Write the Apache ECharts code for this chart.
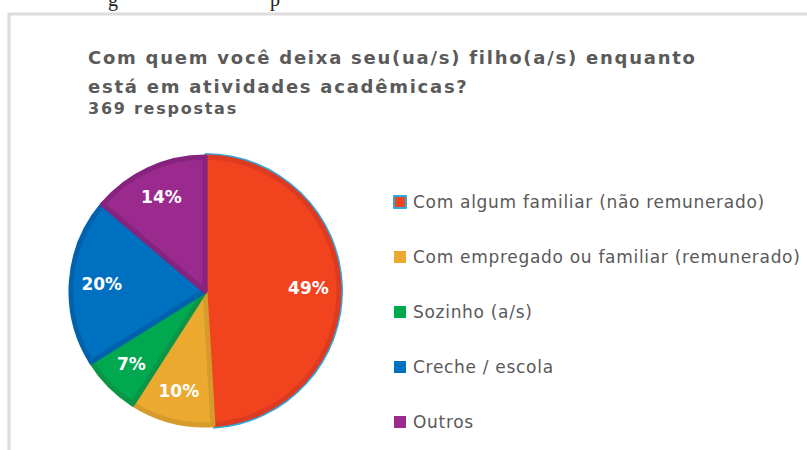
<!DOCTYPE html>
<html>
<head>
<meta charset="utf-8">
<script src="https://cdn.jsdelivr.net/npm/echarts@6/dist/echarts.min.js"></script>
<style>
  html, body { margin: 0; padding: 0; background: #fff; }
  #main { width: 807px; height: 450px; }
  /* spaced-out lettering of the title and of the legend */
  #main text[style*="Verdana"], #main text[font-family*="Verdana"] { letter-spacing: 1.75px; }
  #main text[style*="Arial"], #main text[font-family*="Arial"] { letter-spacing: 0.7px; }
</style>
</head>
<body>
<div id="main"></div>
<script>
// answers out of 369
const categories = [
  "Com algum familiar (não remunerado)",
  "Com empregado ou familiar (remunerado)",
  "Sozinho (a/s)",
  "Creche / escola",
  "Outros",
];
const counts = [181, 37, 26, 74, 51];
const fillColors = ["#f2431f", "#eba930", "#00a94f", "#0070c0", "#9b2a8f"];
const edgeColors = ["#dc3b21", "#d69b2b", "#0b9546", "#0062ad", "#86237e"];

const chartDom = document.getElementById("main");
const myChart = echarts.init(chartDom, null, { renderer: "svg" });

const center = [205, 291];
const R = 134;

const mainData = categories.map((name, i) => ({
  name: name,
  value: counts[i],
  itemStyle: { color: fillColors[i], borderColor: edgeColors[i], borderWidth: 5 },
}));

// light blue outline around the first (selected) slice
const outlineData = categories.map((name, i) => ({
  name: name,
  value: counts[i],
  itemStyle: { color: i === 0 ? "#2fa8dc" : "rgba(0,0,0,0)" },
}));

// invisible ring only used to push the labels outward
const labelData = categories.map((name, i) => ({ name: name, value: counts[i] }));

const titleFont = "DejaVu Sans, Verdana, sans-serif";
const legendFont = "DejaVu Sans, Arial, sans-serif";

const option = {
  animation: false,
  title: {
    text: "Com quem você deixa seu(ua/s) filho(a/s) enquanto\nestá em atividades acadêmicas?",
    subtext: "369 respostas",
    left: 83,
    top: 38,
    itemGap: -1,
    textStyle: {
      fontFamily: titleFont,
      fontWeight: "bold",
      fontSize: 18,
      lineHeight: 29,
      color: "#5a5a5a",
    },
    subtextStyle: {
      fontFamily: titleFont,
      fontWeight: "bold",
      fontSize: 16,
      color: "#5a5a5a",
    },
  },
  legend: {
    orient: "vertical",
    left: 388,
    top: 187,
    itemWidth: 12,
    itemHeight: 12,
    itemGap: 35,
    icon: "rect",
    data: categories.map((name, i) => ({
      name: name,
      itemStyle: i === 0
        ? { color: fillColors[i], borderColor: "#2fa8dc", borderWidth: 2 }
        : { color: fillColors[i], borderWidth: 0 },
    })),
    textStyle: {
      fontFamily: legendFont,
      fontSize: 17,
      lineHeight: 20,
      color: "#595959",
      padding: [0, 0, 0, 2],
    },
  },
  graphic: [
    {
      type: "rect",
      shape: { x: 9, y: 14, width: 900, height: 600 },
      style: { fill: "none", stroke: "#dcdcdc", lineWidth: 3 },
      silent: true,
    },
    // bottoms of letters from the document line above the screenshot
    {
      type: "text",
      left: 108,
      top: -11,
      style: { text: "g", font: "20px Liberation Serif", fill: "#222" },
      silent: true,
    },
    {
      type: "text",
      left: 270,
      top: -11,
      style: { text: "p", font: "20px Liberation Serif", fill: "#222" },
      silent: true,
    },
  ],
  series: [
    {
      type: "pie",
      name: "selecionado",
      center: center,
      radius: [0, R + 4],
      startAngle: 90,
      clockwise: true,
      silent: true,
      label: { show: false },
      labelLine: { show: false },
      data: outlineData,
    },
    {
      type: "pie",
      name: "respostas",
      center: center,
      radius: [0, R],
      startAngle: 90,
      clockwise: true,
      label: { show: false },
      labelLine: { show: false },
      emphasis: { disabled: true },
      data: mainData,
    },
    {
      type: "pie",
      name: "rotulos",
      center: center,
      radius: [0, R * 1.5],
      startAngle: 90,
      clockwise: true,
      silent: true,
      itemStyle: { color: "rgba(0,0,0,0)" },
      label: {
        show: true,
        position: "inside",
        color: "#fff",
        fontFamily: "DejaVu Sans, sans-serif",
        fontWeight: "bold",
        fontSize: 17,
        formatter: (p) => Math.round(p.percent) + "%",
      },
      labelLine: { show: false },
      data: labelData,
    },
  ],
};

myChart.setOption(option);
</script>
</body>
</html>
